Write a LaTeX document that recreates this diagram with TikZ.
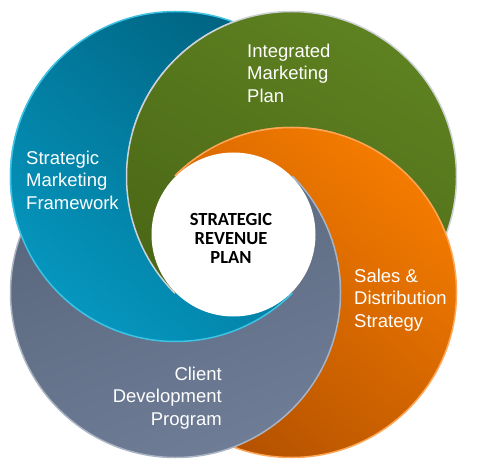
\documentclass[tikz,border=0pt]{standalone}
\usepackage{fontspec}
\setmainfont{Liberation Sans}
\newfontfamily\calfont{Carlito}
\usetikzlibrary{calc}

\definecolor{blueDark}{HTML}{006280}
\definecolor{blueLight}{HTML}{0596BE}
\definecolor{blueRim}{HTML}{3EC3E4}
\definecolor{greenTop}{HTML}{5E8120}
\definecolor{greenBottom}{HTML}{4A6616}
\definecolor{greenRim}{HTML}{CDD2D6}
\definecolor{orangeTop}{HTML}{F47B00}
\definecolor{orangeBottom}{HTML}{B25000}
\definecolor{orangeRim}{HTML}{FFA657}
\definecolor{grayTop}{HTML}{56647A}
\definecolor{grayBottom}{HTML}{6E7C96}
\definecolor{grayRim}{HTML}{A9B3C2}

\tikzset{
  ring0/.style={top color=blueDark, bottom color=blueLight, shading angle=-40, draw=blueRim, line width=1.5pt},
  ring1/.style={top color=greenTop, bottom color=greenBottom, shading angle=-30, draw=greenRim, line width=1.5pt},
  ring2/.style={top color=orangeTop, bottom color=orangeBottom, shading angle=-40, draw=orangeRim, line width=1.5pt},
  ring3/.style={top color=grayTop, bottom color=grayBottom, shading angle=20, draw=grayRim, line width=1.5pt},
  ringtext/.style={text=white, inner sep=0pt, font=\fontsize{18.5}{22.5}\selectfont},
}

\begin{document}
\begin{tikzpicture}[x=1pt,y=1pt]
\useasboundingbox (0,0) rectangle (481,469);
\coordinate (C) at (233.5,234.5);
\coordinate (c0) at ($(C)+(-58,58)$);
\coordinate (c1) at ($(C)+(58,58)$);
\coordinate (c2) at ($(C)+(58,-58)$);
\coordinate (c3) at ($(C)+(-58,-58)$);
% base order
\foreach \r in {0,...,3}
  \path[ring\r] (c\r) circle (165pt);
% blue over the lower and left quarters
\begin{scope}
  \clip (C) -- +(-45:500) -- +(-135:500) -- +(135:500) -- cycle;
  \path[ring0] (c0) circle (165pt);
\end{scope}
% green over the left quarter
\begin{scope}
  \clip (C) -- +(-135:500) -- +(135:500) -- +(90:500) -- cycle;
  \path[ring1] (c1) circle (165pt);
\end{scope}
% orange over the upper quarter
\begin{scope}
  \clip (C) -- +(135:500) -- +(45:500) -- cycle;
  \path[ring2] (c2) circle (165pt);
\end{scope}
\fill[white] (C) circle (82pt);
\node[ringtext, align=left, anchor=west] (framework) at (26,289) {Strategic\\Marketing\\Framework};
\node[ringtext, align=left, anchor=west] (marketing) at (247,396) {Integrated\\Marketing\\Plan};
\node[ringtext, align=left, anchor=west] (sales) at (354,169) {Sales \&\\Distribution\\Strategy};
\node[ringtext, align=right, anchor=east] (client) at (222,71) {Client\\Development\\Program};
\node[align=center, inner sep=0pt, font=\calfont\bfseries\fontsize{18.5}{19}\selectfont] (revenue) at (231,231) {STRATEGIC\\REVENUE\\PLAN};
\end{tikzpicture}
\end{document}
